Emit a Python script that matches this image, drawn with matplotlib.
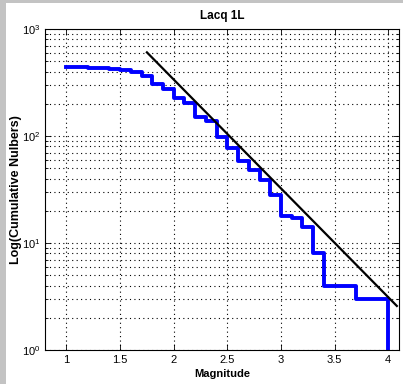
import matplotlib
matplotlib.use('Agg')
import matplotlib.pyplot as plt
import matplotlib.ticker as ticker
from matplotlib.patches import Rectangle

plt.rcParams['font.family'] = ['Liberation Sans', 'DejaVu Sans']

# cumulative counts per magnitude bin
magnitudes = [1.0, 1.1, 1.2, 1.3, 1.4, 1.5, 1.6, 1.7, 1.8, 1.9, 2.0,
              2.1, 2.2, 2.3, 2.4, 2.5, 2.6, 2.7, 2.8, 2.9, 3.0,
              3.1, 3.2, 3.3, 3.4, 3.5, 3.6, 3.7, 3.8, 3.9, 4.0]
cum_counts = [442, 442, 434, 434, 425, 417, 399, 366, 304, 273, 228,
              203, 151, 138, 98, 77, 58, 48, 39, 28, 18,
              17, 14, 8, 4, 4, 4, 3, 3, 3, 1]

# fitted Gutenberg-Richter line endpoints
fit_mag = [1.75, 4.08]
fit_counts = [605, 2.58]

xticks = [1, 1.5, 2, 2.5, 3, 3.5, 4]
xticklabels = ['1', '1.5', '2', '2.5', '3', '3.5', '4']

fig = plt.figure(figsize=(4.03, 3.84), dpi=100, facecolor='white')
# grey frame strips at the left and top
fig.patches.append(Rectangle((0, 0), 6 / 403, 1, transform=fig.transFigure,
                             facecolor='#c3c3c3', edgecolor='none', zorder=0))
fig.patches.append(Rectangle((0, 1 - 3 / 384), 1, 3 / 384, transform=fig.transFigure,
                             facecolor='#c3c3c3', edgecolor='none', zorder=0))

ax = fig.add_axes([45 / 403, 1 - 350 / 384, 354 / 403, 321 / 384])

ax.plot(magnitudes, cum_counts, drawstyle='steps-post', color='#0000ff', lw=2.8)
ax.plot(fit_mag, fit_counts, color='black', lw=1.6)

ax.set_yscale('log')
ax.set_xlim(0.8, 4.1)
ax.set_ylim(1, 1000)
ax.set_xticks(xticks)
ax.set_xticklabels(xticklabels)
ax.yaxis.set_major_locator(ticker.LogLocator(base=10, numticks=5))
ax.yaxis.set_minor_locator(ticker.LogLocator(base=10, subs=range(2, 10), numticks=20))
ax.yaxis.set_minor_formatter(ticker.NullFormatter())

ax.grid(True, which='major', ls=(0, (1, 3)), color='black', lw=0.8)
ax.grid(True, which='minor', axis='y', ls=(0, (1, 3)), color='black', lw=0.8)
ax.tick_params(which='both', direction='in', top=True, right=True,
               labelsize=8, width=0.6)
ax.tick_params(which='major', length=4)
ax.tick_params(which='minor', length=2)
for s in ax.spines.values():
    s.set_linewidth(0.8)

ax.set_title('Lacq 1L', fontsize=8.5, fontweight='bold', pad=7)
ax.set_xlabel('Magnitude', fontsize=8, fontweight='bold', labelpad=3)
ax.set_ylabel('Log(Cumulative Nulbers)', fontsize=9, fontweight='bold')
ax.yaxis.set_label_coords(-23 / 354, 0.5)

fig.savefig('out.png', dpi=100, facecolor='white')
